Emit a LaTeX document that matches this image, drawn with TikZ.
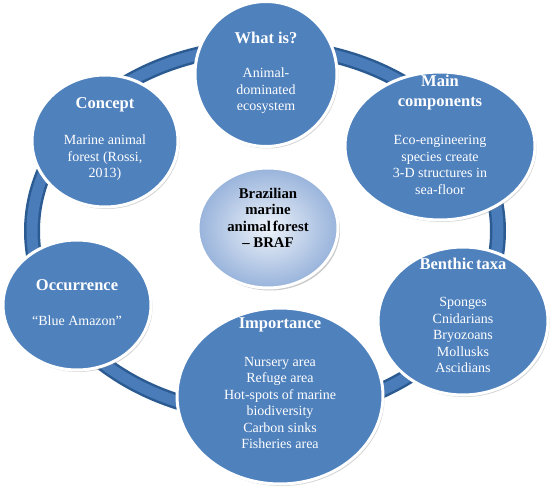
\documentclass[tikz,border=0pt]{standalone}
\usepackage{fontspec}
\setmainfont{Liberation Serif}
\usetikzlibrary{shapes.geometric,shadows}
\definecolor{blobblue}{HTML}{4F81BD}
\definecolor{ringdark}{HTML}{2C5B92}
\definecolor{ringmid}{HTML}{4A7CBA}
\definecolor{cinner}{HTML}{EEF3FA}
\definecolor{couter}{HTML}{98B3DB}
\tikzset{
  blob/.style={ellipse, fill=blobblue, draw=white, line width=3pt, inner sep=0pt,
    drop shadow={shadow xshift=1.5pt, shadow yshift=-2pt, opacity=0.35}},
  centreblob/.style={ellipse, inner color=cinner, outer color=couter, draw=white, line width=3pt, inner sep=0pt,
    drop shadow={shadow xshift=2pt, shadow yshift=-2.5pt, opacity=0.4}},
  ttl/.style={text=white, align=center, inner sep=0pt, font=\fontsize{16.5}{20}\selectfont\bfseries},
  bdy/.style={text=white, align=center, inner sep=0pt, font=\fontsize{14}{16.5}\selectfont},
  ctxt/.style={text=black, align=center, inner sep=0pt, font=\fontsize{14.8}{16.5}\selectfont\bfseries}
}
\begin{document}
\begin{tikzpicture}[x=1pt,y=-1pt]
\useasboundingbox (0,0) rectangle (552,489);
\fill[white] (0,0) rectangle (552,489);
% ring
\coordinate (ringc) at (265,231);
\draw[ringdark, line width=16pt] (ringc) ellipse [x radius=233, y radius=184];
\draw[ringmid, line width=11pt] (ringc) ellipse [x radius=233, y radius=184];
% centre
\node[centreblob, minimum width=140pt, minimum height=120pt] (braf) at (268,228) {};
\node[ctxt] (braft) at (268,218) {Brazilian\\marine\\animal\hspace{-0.12em} forest\\– BRAF};
% What is?
\node[blob, minimum width=142pt, minimum height=145pt] (what) at (266,74) {};
\node[ttl] (whatt) at (266,38) {What is?};
\node[bdy] (whatb) at (266,91) {Animal-\\dominated\\ecosystem};
% Concept
\node[blob, minimum width=146pt, minimum height=132pt] (concept) at (105,141) {};
\node[ttl] (conceptt) at (105,105) {Concept};
\node[bdy] (conceptb) at (105,158) {Marine animal\\forest (Rossi,\\2013)};
% Main components
\node[blob, minimum width=190pt, minimum height=148pt] (main) at (440,146) {};
\node[ttl] (maint) at (440,93) {Main\\components};
\node[bdy] (mainb) at (440,165) {Eco-engineering\\species create\\3-D structures in\\sea-floor};
% Occurrence
\node[blob, minimum width=148pt, minimum height=130pt] (occ) at (77,305) {};
\node[ttl] (occt) at (77,285) {Occurrence};
\node[bdy] (occb) at (77,321) {“Blue Amazon”};
% Benthic taxa
\node[blob, minimum width=170pt, minimum height=148pt] (benth) at (463,321) {};
\node[ttl] (bentht) at (463,264) {Benthic\hspace{-0.1em} taxa};
\node[bdy] (benthb) at (463,335) {Sponges\\Cnidarians\\Bryozoans\\Mollusks\\Ascidians};
% Importance
\node[blob, minimum width=206pt, minimum height=176pt] (imp) at (280,396) {};
\node[ttl] (impt) at (280,325) {Importance};
\node[bdy] (impb) at (280,403) {Nursery area\\Refuge area\\Hot-spots of marine\\biodiversity\\Carbon sinks\\Fisheries area};
\end{tikzpicture}
\end{document}
